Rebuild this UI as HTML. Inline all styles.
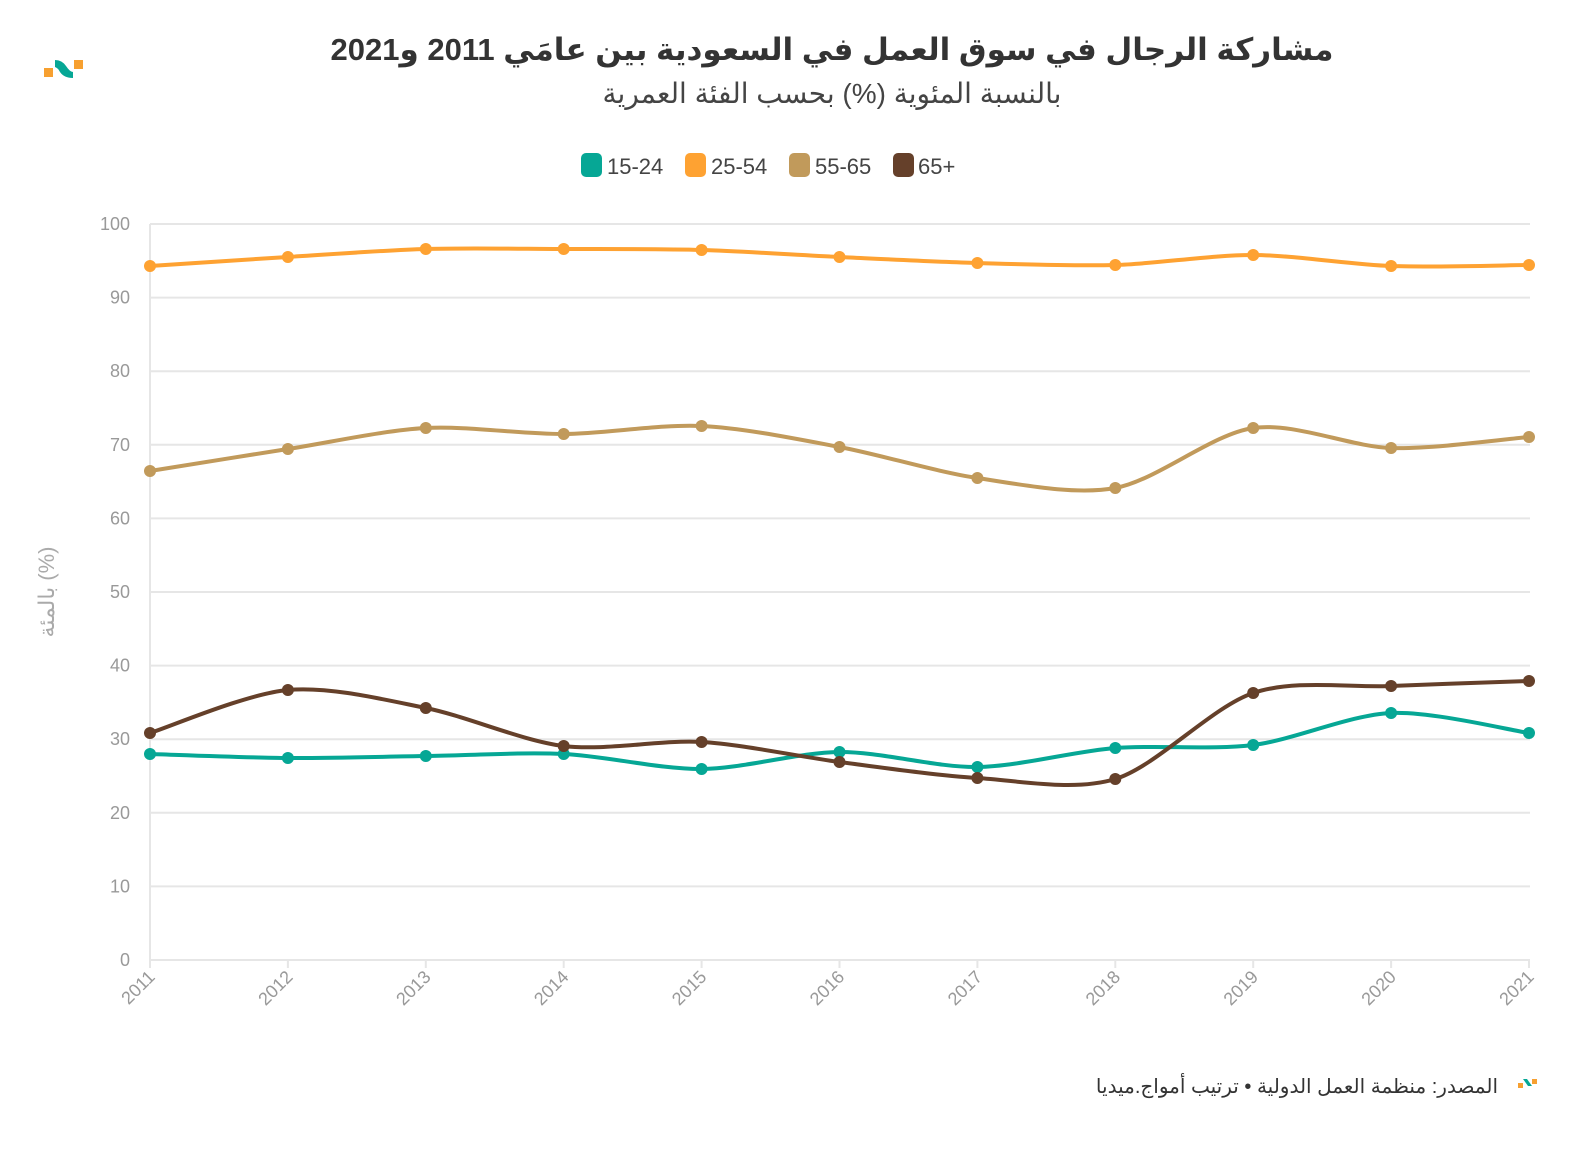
<!DOCTYPE html>
<html><head><meta charset="utf-8"><style>
body{margin:0;background:#fff;width:1592px;height:1150px;overflow:hidden;font-family:"Liberation Sans","Noto Sans CJK SC",sans-serif}
</style></head><body>
<svg id="s" width="1592" height="1150" xmlns="http://www.w3.org/2000/svg" font-family="Liberation Sans, DejaVu Sans, sans-serif">
<rect x="44" y="68" width="9" height="9" fill="#f7a030"/>
<rect x="74" y="60" width="9" height="9" fill="#f7a030"/>
<path d="M55 60 Q62 60 66 66 Q70 72 73 72 L73 78 Q64 78 60 72 Q58 68 55 67 Z" fill="#06a795"/>
<text x="832" y="60" text-anchor="middle" font-size="31" font-weight="bold" fill="#333" direction="rtl">مشاركة الرجال في سوق العمل في السعودية بين عامَي 2011 و2021</text>
<text x="832" y="103" text-anchor="middle" font-size="28" fill="#444" direction="rtl">بالنسبة المئوية (%) بحسب الفئة العمرية</text>
<g font-size="22" fill="#444">
<rect x="581" y="153" width="21" height="24" rx="5" fill="#06a795"/><text x="607" y="174">15-24</text>
<rect x="685" y="153" width="21" height="24" rx="5" fill="#fea232"/><text x="711" y="174">25-54</text>
<rect x="789" y="153" width="21" height="24" rx="5" fill="#c19a5b"/><text x="815" y="174">55-65</text>
<rect x="893" y="153" width="21" height="24" rx="5" fill="#65402a"/><text x="918" y="174">65+</text>
</g>
<g id="grid" stroke="#e6e6e6" stroke-width="2"></g>
<g id="yl" font-size="18" fill="#999" text-anchor="end"></g>
<g id="xl" font-size="18" fill="#999"></g>
<text transform="translate(48,592) rotate(-90)" text-anchor="middle" font-size="22" fill="#aaa" dominant-baseline="middle">بالمئة (%)</text>
<g id="series"></g>
<text x="1498" y="1093" text-anchor="start" font-size="20" fill="#333" direction="rtl">المصدر: منظمة العمل الدولية • ترتيب أمواج.ميديا</text>
<rect x="1518" y="1083" width="5" height="5" fill="#f7a030"/><rect x="1532" y="1079" width="5" height="5" fill="#f7a030"/>
<path d="M1523 1079 L1527 1079 L1532 1086 L1528 1086 Z" fill="#06a795"/>
</svg>
<script>
var ns="http://www.w3.org/2000/svg";
function el(t,a,p){var e=document.createElementNS(ns,t);for(var k in a)e.setAttribute(k,a[k]);p.appendChild(e);return e;}
var g=document.getElementById('grid'),yl=document.getElementById('yl'),xl=document.getElementById('xl');
for(var i=0;i<=10;i++){var y=960-i*73.6;el('line',{x1:150,x2:1530,y1:y,y2:y},g);var t=el('text',{x:130,y:y+6},yl);t.textContent=i*10;}
el('line',{x1:150,x2:150,y1:224,y2:960},g);
for(var i=0;i<=10;i++){var x=150+i*137.9;el('line',{x1:x,x2:x,y1:960,y2:968},g);var t=el('text',{x:x+6,y:978,transform:'rotate(-45 '+(x+6)+' 978)','text-anchor':'end'},xl);t.textContent=2011+i;}
var data=[
["#fea232",[266,257,249,249,250,257,263,265,255,266,265]],
["#c19a5b",[471,449,428,434,426,447,478,488,428,448,437]],
["#06a795",[754,758,756,754,769,752,767,748,745,713,733]],
["#65402a",[733,690,708,746,742,762,778,779,693,686,681]]];
var sg=document.getElementById('series');
data.forEach(function(s){var ys=s[1],p=ys.map(function(y,i){return[150+i*137.9,y]});
var d="M"+p[0];for(var i=0;i<p.length-1;i++){var a=p[i-1]||p[i],b=p[i],c=p[i+1],e=p[i+2]||c;var k=0.15;
d+=" C"+(b[0]+(c[0]-a[0])*k)+","+(b[1]+(c[1]-a[1])*k)+" "+(c[0]-(e[0]-b[0])*k)+","+(c[1]-(e[1]-b[1])*k)+" "+c;}
el('path',{d:d,fill:'none',stroke:s[0],'stroke-width':4},sg);
p.forEach(function(q){el('circle',{cx:q[0],cy:q[1],r:6,fill:s[0]},sg);});});
</script>
</body></html>
